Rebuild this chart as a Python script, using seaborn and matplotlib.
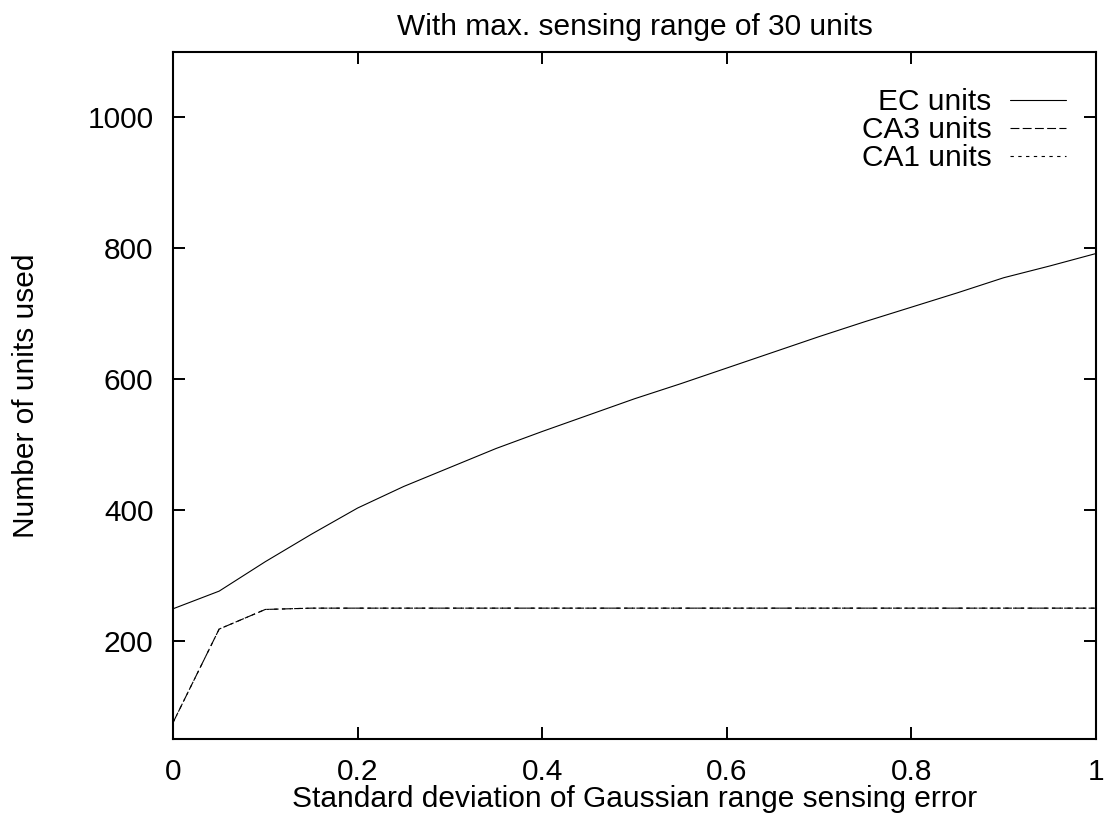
import numpy as np
import pandas as pd
import seaborn as sns
import matplotlib.pyplot as plt

# valeurs (ecart-type de l'erreur de portee)
sigma = [0.0, 0.05, 0.1, 0.15, 0.2, 0.25, 0.3, 0.35, 0.4, 0.45, 0.5,
         0.55, 0.6, 0.65, 0.7, 0.75, 0.8, 0.85, 0.9, 0.95, 1.0]
ec_units = [249, 276, 321, 363, 403, 436, 465, 494, 520, 545, 570,
            593, 617, 641, 665, 688, 710, 732, 755, 773, 792]
ca3_units = [75, 218, 248, 250, 250, 250, 250, 250, 250, 250, 250,
             250, 250, 250, 250, 250, 250, 250, 250, 250, 250]
ca1_units = [75, 218, 248, 250, 250, 250, 250, 250, 250, 250, 250,
             250, 250, 250, 250, 250, 250, 250, 250, 250, 250]
series_names = ["EC units", "CA3 units", "CA1 units"]
x_ticks = [0, 0.2, 0.4, 0.6, 0.8, 1]
x_ticklabels = ["0", "0.2", "0.4", "0.6", "0.8", "1"]
y_ticks = [200, 400, 600, 800, 1000]

df = pd.DataFrame({
    "sigma": sigma * 3,
    "units": ec_units + ca3_units + ca1_units,
    "serie": [series_names[0]] * len(sigma) + [series_names[1]] * len(sigma) + [series_names[2]] * len(sigma),
})

sns.set_style("ticks")
plt.rcParams['font.family'] = ['Liberation Sans', 'DejaVu Sans']
plt.rcParams['text.color'] = 'black'
plt.rcParams['axes.labelcolor'] = 'black'

FS = 21.5

fig = plt.figure(figsize=(11.04, 8.19), dpi=100)
ax = fig.add_axes([173 / 1104, 80 / 819, 923 / 1104, 687 / 819])

sns.lineplot(data=df, x="sigma", y="units", style="serie", color="black",
             dashes={"EC units": "", "CA3 units": (8, 3), "CA1 units": (3, 4)},
             linewidth=0.8, ax=ax)

ax.set_xlim(0, 1)
ax.set_ylim(50, 1100)
ax.set_xticks(x_ticks)
ax.set_xticklabels(x_ticklabels)
ax.set_yticks(y_ticks)
ax.tick_params(direction="in", length=8.5, width=1.4, labelsize=FS, pad=14,
               top=True, right=True, colors="black")
for s in ax.spines.values():
    s.set_linewidth(1.5)
    s.set_color("black")

ax.set_xlabel("Standard deviation of Gaussian range sensing error", fontsize=FS, labelpad=-1)
ax.set_ylabel("Number of units used", fontsize=FS, labelpad=34)
ax.set_title("With max. sensing range of 30 units", fontsize=FS, pad=12)

handles, labels = ax.get_legend_handles_labels()
ax.legend(handles, labels, loc="upper right", bbox_to_anchor=(0.980, 0.9645),
          frameon=False, markerfirst=False, fontsize=FS, handlelength=1.85,
          labelspacing=0.0, borderaxespad=0.0, handletextpad=0.63)

plt.savefig("out.png", dpi=100)
